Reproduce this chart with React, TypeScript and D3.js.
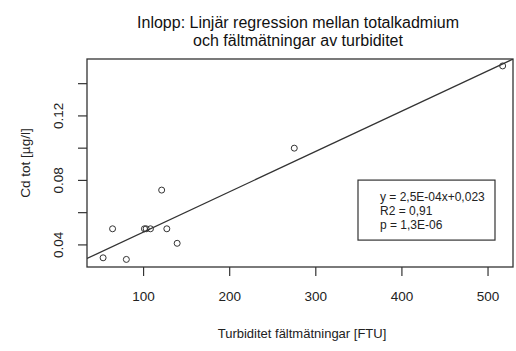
import React, { useEffect, useRef } from 'react';
import * as d3 from 'd3';

// turbidity (FTU) and total cadmium (µg/l)
const turbidity = [53, 64, 80, 101, 103, 108, 121, 127, 139, 275, 517];
const cadmium = [0.032, 0.050, 0.031, 0.050, 0.050, 0.050, 0.074, 0.050, 0.041, 0.100, 0.151];
const xTicks = [100, 200, 300, 400, 500];
const yTicks = [0.04, 0.06, 0.08, 0.10, 0.12, 0.14];
const yLabelled = [0.04, 0.08, 0.12];
const slope = 2.5e-4;
const intercept = 0.023;
const statLines = ['y = 2,5E-04x+0,023', 'R2 = 0,91', 'p = 1,3E-06'];
const titleLines = ['Inlopp: Linjär regression mellan totalkadmium', 'och fältmätningar av turbiditet'];

const App = () => {
    const svgRef = useRef<SVGSVGElement>(null);

    useEffect(() => {
        const width = 516;
        const height = 351;
        const margin = { top: 59, right: 3, bottom: 84, left: 87 };
        const innerW = width - margin.left - margin.right;
        const innerH = height - margin.top - margin.bottom;
        const ink = '#333';

        d3.select(svgRef.current).selectAll('*').remove();
        const root = d3.select(svgRef.current)
            .attr('width', width)
            .attr('height', height)
            .style('font-family', '"Liberation Sans", Arial, sans-serif');

        root.append('rect').attr('width', width).attr('height', height).attr('fill', 'white');

        const x = d3.scaleLinear().domain([34.3, 529]).range([0, innerW]);
        const y = d3.scaleLinear().domain([0.0263, 0.1553]).range([innerH, 0]);

        const svg = root.append('g').attr('transform', `translate(${margin.left},${margin.top})`);

        // clip for the regression line
        svg.append('clipPath').attr('id', 'plotclip')
            .append('rect').attr('width', innerW).attr('height', innerH);

        // x ticks
        svg.append('g')
            .selectAll('line')
            .data(xTicks)
            .enter()
            .append('line')
            .attr('x1', d => x(d)).attr('x2', d => x(d))
            .attr('y1', innerH).attr('y2', innerH + 9)
            .attr('stroke', ink).attr('stroke-width', 1.2);
        svg.append('g')
            .selectAll('text')
            .data(xTicks)
            .enter()
            .append('text')
            .attr('x', d => x(d))
            .attr('y', innerH + 34)
            .attr('text-anchor', 'middle')
            .style('font-size', '13.5px')
            .style('fill', '#222')
            .text(d => d);

        // y ticks
        svg.append('g')
            .selectAll('line')
            .data(yTicks)
            .enter()
            .append('line')
            .attr('x1', 0).attr('x2', -9)
            .attr('y1', d => y(d)).attr('y2', d => y(d))
            .attr('stroke', ink).attr('stroke-width', 1.2);
        svg.append('g')
            .selectAll('text')
            .data(yLabelled)
            .enter()
            .append('text')
            .attr('transform', d => `translate(-24,${y(d)}) rotate(-90)`)
            .attr('text-anchor', 'middle')
            .style('font-size', '13.5px')
            .style('fill', '#222')
            .text(d => d.toFixed(2));

        // regression line
        const xd = x.domain();
        svg.append('line')
            .attr('clip-path', 'url(#plotclip)')
            .attr('x1', x(xd[0])).attr('y1', y(intercept + slope * xd[0]))
            .attr('x2', x(xd[1])).attr('y2', y(intercept + slope * xd[1]))
            .attr('stroke', ink).attr('stroke-width', 1.3);

        // points
        svg.append('g')
            .selectAll('circle')
            .data(turbidity)
            .enter()
            .append('circle')
            .attr('cx', d => x(d))
            .attr('cy', (d, i) => y(cadmium[i]))
            .attr('r', 3)
            .attr('fill', 'none')
            .attr('stroke', ink)
            .attr('stroke-width', 1);

        // box
        svg.append('rect')
            .attr('width', innerW).attr('height', innerH)
            .attr('fill', 'none')
            .attr('stroke', ink).attr('stroke-width', 1.3);

        // stats box
        const bx = x(349), by = y(0.0802);
        svg.append('rect')
            .attr('x', bx).attr('y', by)
            .attr('width', 137).attr('height', 60)
            .attr('fill', 'white')
            .attr('stroke', ink).attr('stroke-width', 1.2);
        svg.append('g')
            .selectAll('text')
            .data(statLines)
            .enter()
            .append('text')
            .attr('x', bx + 22)
            .attr('y', (d, i) => by + 21 + i * 14)
            .style('font-size', '12px')
            .style('fill', '#222')
            .text(d => d);

        // titles
        const cx = margin.left + innerW / 2;
        root.append('g')
            .selectAll('text')
            .data(titleLines)
            .enter()
            .append('text')
            .attr('x', cx - 2)
            .attr('y', (d, i) => 28 + i * 18)
            .attr('text-anchor', 'middle')
            .style('font-size', '16px')
            .style('fill', '#111')
            .text(d => d);
        root.append('text')
            .attr('x', cx + 2).attr('y', 338)
            .attr('text-anchor', 'middle')
            .style('font-size', '13px')
            .style('fill', '#222')
            .text('Turbiditet fältmätningar [FTU]');
        root.append('text')
            .attr('transform', `translate(30,${margin.top + innerH / 2}) rotate(-90)`)
            .attr('text-anchor', 'middle')
            .style('font-size', '13.5px')
            .style('fill', '#222')
            .text('Cd tot [µg/l]');
    }, []);

    return (
        <svg ref={svgRef} style={{ position: 'absolute', left: 0, top: 0 }}></svg>
    );
};

export default App;
